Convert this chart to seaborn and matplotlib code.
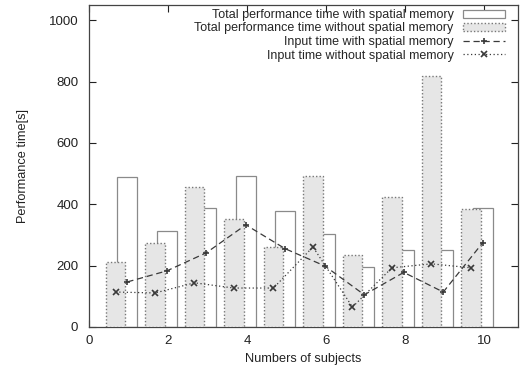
import numpy as np
import matplotlib
matplotlib.use("Agg")
import matplotlib.pyplot as plt
import seaborn as sns
from matplotlib.patches import Patch
from matplotlib.lines import Line2D

# ---- data ----
subjects = [1, 2, 3, 4, 5, 6, 7, 8, 9, 10]
total_with = [489, 314, 388, 493, 379, 303, 197, 252, 252, 388]
total_without = [211, 275, 457, 352, 260, 493, 235, 424, 818, 384]
input_with = [147, 183, 242, 333, 255, 199, 105, 178, 114, 275]
input_without = [114, 111, 144, 127, 127, 261, 65, 193, 206, 193]

series_labels = [
    "Total performance time with spatial memory",
    "Total performance time without spatial memory",
    "Input time with spatial memory",
    "Input time without spatial memory",
]
x_ticks = [0, 2, 4, 6, 8, 10]
y_ticks = [0, 200, 400, 600, 800, 1000]

# ---- style ----
sns.set_theme(style="ticks")
plt.rcParams['font.family'] = ['Liberation Sans', 'DejaVu Sans']

fig = plt.figure(figsize=(5.2, 3.74), dpi=100)
ax = fig.add_axes([0.172, 0.1257, 0.824, 0.861])

off_with = -0.04
off_without = -0.34
bar_w = 0.5
line_col = '#3a3a3a'
white_edge = '#8a8a8a'
gray_fill = '#e6e6e6'
gray_edge = '#777777'

xs = np.array(subjects, dtype=float)

ax.bar(xs + off_with, total_with, width=bar_w, facecolor='white',
       edgecolor=white_edge, linewidth=0.9, zorder=2)
ax.bar(xs + off_without, total_without, width=bar_w, facecolor=gray_fill,
       edgecolor=gray_edge, linewidth=1.0, linestyle=(0, (1, 1.5)), zorder=3)

sns.lineplot(x=xs + off_with, y=input_with, ax=ax, color=line_col,
             linestyle=(0, (5, 3)), linewidth=0.9, marker='+', markersize=5,
             markeredgewidth=1.2, markeredgecolor=line_col, zorder=4, legend=False)
sns.lineplot(x=xs + off_without, y=input_without, ax=ax, color=line_col,
             linestyle=(0, (1, 2)), linewidth=0.9, marker='x', markersize=4.5,
             markeredgewidth=1.2, markeredgecolor=line_col, zorder=4, legend=False)

ax.set_xlim(0, 10.85)
ax.set_ylim(0, 1050)
ax.set_xticks(x_ticks)
ax.set_yticks(y_ticks)
ax.tick_params(direction='in', top=True, right=True, length=5, width=0.8,
               labelsize=9.5, colors='#222222')
ax.tick_params(axis='y', pad=8)
ax.tick_params(axis='x', pad=6)
for s in ax.spines.values():
    s.set_color('#444444')
    s.set_linewidth(0.9)

ax.set_xlabel("Numbers of subjects", fontsize=9.2, labelpad=4, color='#222222')
ax.set_ylabel("Performance time[s]", fontsize=9.2, labelpad=14, color='#222222')

handles = [
    Patch(facecolor='white', edgecolor=white_edge, linewidth=0.9),
    Patch(facecolor=gray_fill, edgecolor=gray_edge, linewidth=1.0, linestyle=(0, (1, 1.5))),
    Line2D([], [], color=line_col, linestyle=(0, (5, 3)), linewidth=0.9, marker='+',
           markersize=5, markeredgewidth=1.2),
    Line2D([], [], color=line_col, linestyle=(0, (1, 2)), linewidth=0.9, marker='x',
           markersize=4.5, markeredgewidth=1.2),
]
ax.legend(handles, series_labels, loc='upper right',
          bbox_to_anchor=(505 / 520, 1 - 9 / 374), bbox_transform=fig.transFigure,
          frameon=False, markerfirst=False, fontsize=9, handlelength=3.4,
          handletextpad=0.7, labelspacing=0.12, borderpad=0, borderaxespad=0,
          handleheight=0.6)

fig.savefig("out.png", dpi=100, facecolor='white')
